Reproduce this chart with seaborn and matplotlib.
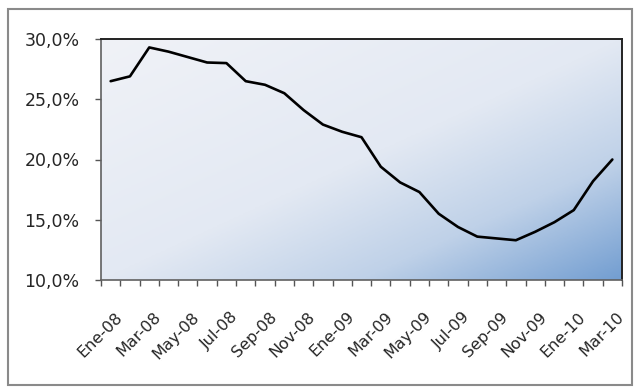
import numpy as np
import matplotlib
matplotlib.use("Agg")
import matplotlib.pyplot as plt
import matplotlib.transforms as mtransforms
from matplotlib.colors import LinearSegmentedColormap
from matplotlib.ticker import FuncFormatter
import seaborn as sns

# data
months = ['Ene-08', 'Feb-08', 'Mar-08', 'Abr-08', 'May-08', 'Jun-08', 'Jul-08',
          'Ago-08', 'Sep-08', 'Oct-08', 'Nov-08', 'Dic-08', 'Ene-09', 'Feb-09',
          'Mar-09', 'Abr-09', 'May-09', 'Jun-09', 'Jul-09', 'Ago-09', 'Sep-09',
          'Oct-09', 'Nov-09', 'Dic-09', 'Ene-10', 'Feb-10', 'Mar-10']
rate = [26.5, 26.9, 29.3, 28.95, 28.5, 28.05, 28.0, 26.5, 26.2, 25.5, 24.1,
        22.9, 22.3, 21.85, 19.4, 18.1, 17.3, 15.5, 14.4, 13.6, 13.45, 13.3,
        14.0, 14.8, 15.8, 18.2, 20.0]
y_ticks = [10, 15, 20, 25, 30]

sns.set_style("white")
plt.rcParams['font.family'] = ['DejaVu Sans']

fig = plt.figure(figsize=(6.39, 3.92), dpi=100)
ax = fig.add_axes([101 / 639, 1 - 280 / 392, 521 / 639, 241 / 392])

# gradient background (light grey top-left -> blue bottom-right)
n = len(months)
gx, gy = np.meshgrid(np.linspace(0, 1, 300), np.linspace(0, 1, 200))
t = (gx + gy) / 2
cmap = LinearSegmentedColormap.from_list(
    'bg', [(0.0, '#f0f2f7'), (0.5, '#e3e9f3'), (0.75, '#bfd1e8'), (1.0, '#739ed1')])
ax.imshow(t, cmap=cmap, vmin=0, vmax=1, extent=(-0.5, n - 0.5, 10, 30),
          origin='upper', aspect='auto', zorder=0, interpolation='bilinear')

sns.lineplot(x=np.arange(n), y=rate, ax=ax, color='black', linewidth=1.9, zorder=3)

ax.set_xlim(-0.5, n - 0.5)
ax.set_ylim(10, 30)
ax.set_yticks(y_ticks)
ax.yaxis.set_major_formatter(FuncFormatter(lambda v, p: f"{v:.1f}%".replace('.', ',')))
ax.tick_params(axis='y', direction='out', length=4.5, width=1, color='#555555',
               labelsize=12.5, pad=11, left=True)

# ticks at category boundaries, labels at every second category centre
ax.set_xticks(np.arange(-0.5, n, 1.0))
ax.set_xticklabels([])
ax.set_xticks(np.arange(0, n, 2), minor=True)
ax.set_xticklabels(months[::2], minor=True, rotation=45, ha='right', va='top',
                   rotation_mode='anchor', fontsize=11.5)
ax.tick_params(axis='x', which='major', direction='out', length=4, width=1,
               color='#555555', bottom=True)
ax.tick_params(axis='x', which='minor', length=0, pad=21)
offset = mtransforms.ScaledTranslation(0.04, 0, fig.dpi_scale_trans)
for lab in ax.get_xticklabels(minor=True):
    lab.set_transform(lab.get_transform() + offset)

for side in ['left', 'bottom']:
    ax.spines[side].set_color('#606060')
    ax.spines[side].set_linewidth(1.2)
for side in ['top', 'right']:
    ax.spines[side].set_color('#222222')
    ax.spines[side].set_linewidth(1.4)
ax.set_xlabel('')
ax.set_ylabel('')
ax.grid(False)

# outer chart frame
fig.patches.append(plt.Rectangle((8 / 639, 1 - 385 / 392), 624 / 639, 376 / 392,
                                 transform=fig.transFigure, fill=False,
                                 edgecolor='#8a8a8a', linewidth=1.5))

fig.savefig('out.png', dpi=100)
